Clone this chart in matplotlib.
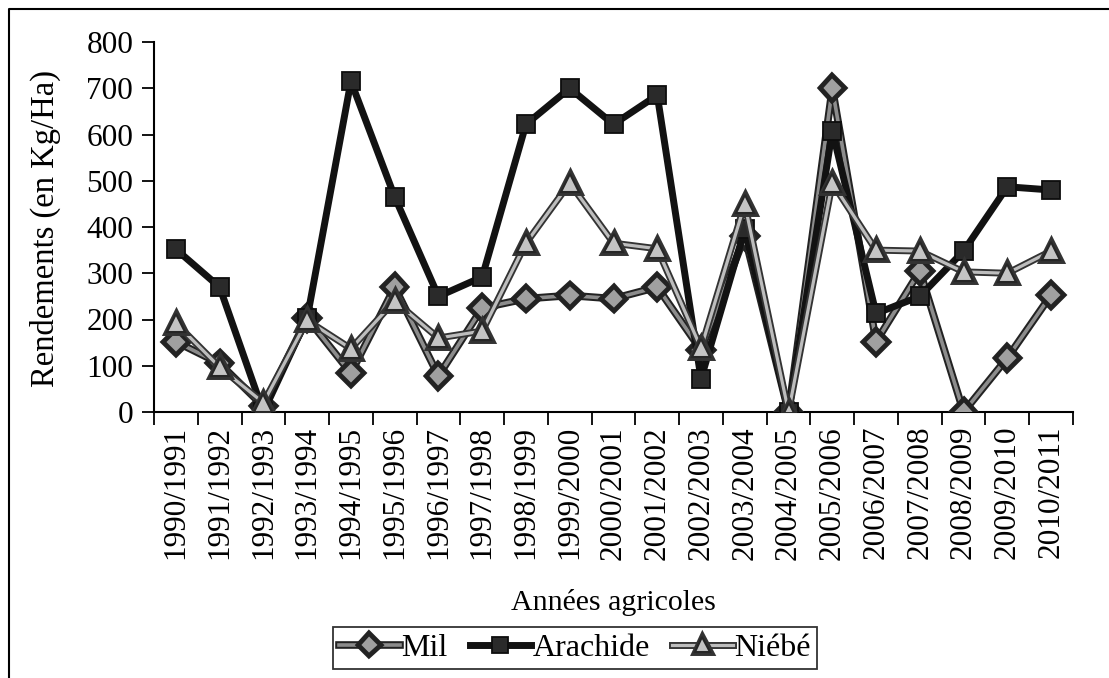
import matplotlib
matplotlib.use("Agg")
import matplotlib.pyplot as plt
import matplotlib.patheffects as pe
from matplotlib.lines import Line2D
import numpy as np

plt.rcParams['font.family'] = ['Liberation Serif', 'DejaVu Serif']

years = ["1990/1991", "1991/1992", "1992/1993", "1993/1994", "1994/1995",
         "1995/1996", "1996/1997", "1997/1998", "1998/1999", "1999/2000",
         "2000/2001", "2001/2002", "2002/2003", "2003/2004", "2004/2005",
         "2005/2006", "2006/2007", "2007/2008", "2008/2009", "2009/2010",
         "2010/2011"]
mil = [152, 105, 12, 203, 84, 270, 78, 225, 245, 252, 245, 270, 134, 380, 0,
       700, 152, 305, 0, 117, 253]
arachide = [352, 270, 0, 203, 715, 465, 250, 292, 622, 700, 622, 685, 72, 395,
            0, 608, 213, 250, 348, 487, 480]
niebe = [192, 97, 20, 198, 137, 240, 160, 175, 365, 495, 365, 353, 138, 450, 0,
         495, 350, 348, 303, 300, 348]

W, H = 1109, 678
fig = plt.figure(figsize=(W / 100, H / 100), dpi=100)
ax = fig.add_axes([154 / W, 1 - 412 / H, (1073 - 154) / W, 370 / H])

x = np.arange(len(years)) + 0.5

l1, = ax.plot(x, mil, color='#8c8c8c', lw=2.6, marker='D', ms=11,
              mfc='#a0a0a0', mec='#222222', mew=1.5, zorder=3,
              path_effects=[pe.Stroke(linewidth=5.5, foreground='#222222'), pe.Normal()])
l2, = ax.plot(x, arachide, color='#121212', lw=5, marker='s', ms=13,
              mfc='#2a2a2a', mec='#0d0d0d', mew=1.3, zorder=4)
l3, = ax.plot(x, niebe, color='#bdbdbd', lw=2.3, marker='^', ms=13,
              mfc='#c4c4c4', mec='#262626', mew=1.5, zorder=5,
              path_effects=[pe.Stroke(linewidth=5.0, foreground='#333333'), pe.Normal()])

ax.set_xlim(0, len(years))
ax.set_ylim(0, 800)
ax.set_yticks(range(0, 801, 100))
ax.set_xticks(np.arange(len(years) + 1))
ax.set_xticklabels([])
ax.set_xticks(x, minor=True)
ax.set_xticklabels(years, minor=True, rotation=90)
ax.tick_params(axis='x', which='minor', length=0, pad=10, labelsize=22.5)
ax.tick_params(axis='x', which='major', length=9, width=1.3, direction='out')
ax.tick_params(axis='y', length=9, width=1.3, direction='out', labelsize=22.5, pad=6)

for s in ['top', 'right']:
    ax.spines[s].set_visible(False)
for s in ['left', 'bottom']:
    ax.spines[s].set_linewidth(1.5)

fig.text(45 / W, 1 - 228 / H, "Rendements (en Kg/Ha)", rotation=90,
         ha='center', va='center', fontsize=23.5)
fig.text(613 / W, 1 - 602 / H, "Années agricoles", ha='center', va='center',
         fontsize=21.5)

leg = fig.legend([l1, l2, l3], ["Mil", "Arachide", "Niébé"], ncol=3,
                 loc='center', bbox_to_anchor=(575 / W, 1 - 648 / H),
                 frameon=True, fancybox=False, edgecolor='black', fontsize=23,
                 handlelength=1.9, handletextpad=0.05, columnspacing=0.7,
                 borderpad=0.2, borderaxespad=0, markerscale=0.85)
leg.get_frame().set_linewidth(1.3)

# cadre autour de la figure
fig.add_artist(Line2D([9 / W, 9 / W, 1.0], [0, 1 - 9 / H, 1 - 9 / H],
                      transform=fig.transFigure, color='black', lw=1.5))

fig.savefig("out.png", dpi=100)
